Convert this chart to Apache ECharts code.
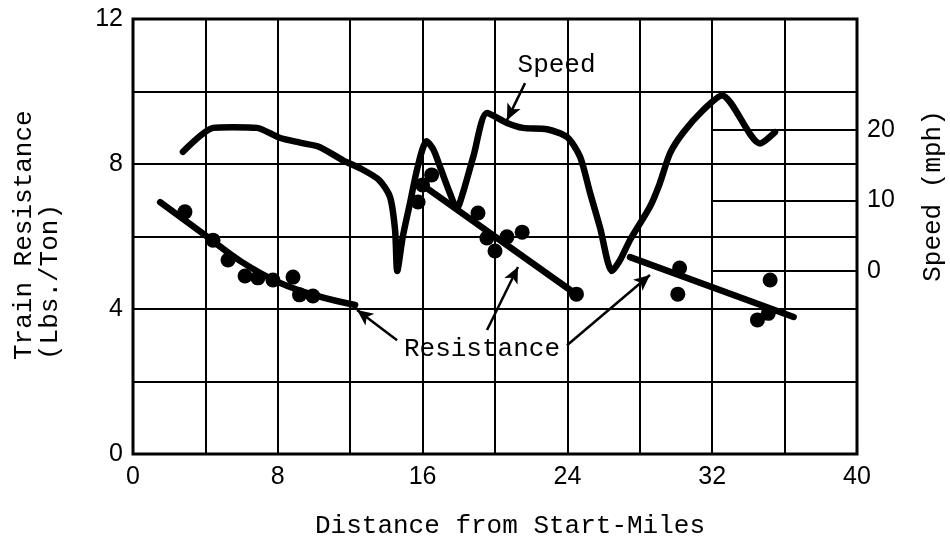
<!DOCTYPE html>
<html>
<head>
<meta charset="utf-8">
<script src="https://cdn.jsdelivr.net/npm/echarts@6/dist/echarts.min.js"></script>
<style>
html,body{margin:0;padding:0;background:#fff;}
#chart{width:950px;height:543px;}
</style>
</head>
<body>
<div id="chart"></div>
<script>
// ---- data ----
const xTickLabels = [0, 8, 16, 24, 32, 40];
const yTickLabels = [0, 4, 8, 12];
const speedTickLabels = [0, 10, 20];

// speed curve (miles, mph)
const speedMiles = [2.76, 4.42, 5.5, 6.85, 8.1, 9.23, 10.3, 11.6, 12.6, 13.6, 14.2, 14.48, 14.6, 14.9, 15.3, 15.75, 16.22, 16.6, 16.96, 17.5, 17.9, 18.23, 18.8, 19.56, 20.66, 21.55, 22.87, 23.98, 24.7, 25.25, 25.8, 26.46, 26.9, 27.46, 28.56, 29.1, 29.67, 30.39, 31.49, 32.54, 34.64, 35.47];
const speedMph   = [16.9, 20.3, 20.4, 20.3, 18.9, 18.2, 17.6, 15.7, 14.5, 12.9, 10.5, 5.8, 0, 4.8, 9.6, 15.0, 18.4, 17.2, 14.8, 11.1, 8.9, 11.1, 16.2, 22.4, 21.0, 20.3, 20.1, 19.0, 16.2, 11.1, 6.2, 0, 1.5, 4.4, 9.1, 12.4, 16.7, 19.6, 22.8, 24.9, 18.1, 19.7];

// resistance fitted lines (miles, lbs/ton)
const res1Miles = [1.5, 3.98, 6.0, 8.12, 10.17, 12.27];
const res1Values = [6.95, 6.04, 5.3, 4.72, 4.36, 4.11];
const res2Miles = [15.9, 24.5];
const res2Values = [7.45, 4.4];
const res3Miles = [27.46, 36.5];
const res3Values = [5.43, 3.78];

// measured resistance points
const dotMiles  = [2.87, 4.42, 5.25, 6.19, 6.9, 7.73, 8.84, 9.2, 9.94, 15.75, 16.0, 16.5, 19.06, 19.55, 20.0, 20.66, 21.5, 24.5, 30.2, 30.1, 35.2, 34.5, 35.1];
const dotValues = [6.68, 5.9, 5.35, 4.91, 4.86, 4.8, 4.88, 4.39, 4.36, 6.95, 7.42, 7.7, 6.65, 5.96, 5.6, 5.99, 6.12, 4.41, 5.13, 4.41, 4.8, 3.7, 3.88];

// annotations (data coordinates)
const labelTexts = ['Speed', 'Resistance'];
const labelMiles = [23.4, 19.28];
const labelValues = [10.73, 2.9];
const arrowFromMiles = [21.66, 14.59, 19.56, 23.98];
const arrowFromValues = [10.23, 3.14, 3.42, 3.0];
const arrowToMiles = [20.66, 12.38, 21.27, 28.56];
const arrowToValues = [9.21, 3.97, 5.16, 4.94];

// right (speed) axis extent, matched to left axis 0..12
const speedAxisMin = -25.95;
const speedAxisMax = 35.74;
const speedGridFrom = 32, speedGridTo = 40;

// ---- chart ----
const zip = (a, b) => a.map((v, i) => [v, b[i]]);
const mono = '"Liberation Mono", "DejaVu Sans Mono", monospace';
const sans = '"Liberation Sans", Arial, sans-serif';

const chart = echarts.init(document.getElementById('chart'), null, {renderer: 'canvas'});
chart.setOption({
  animation: false,
  backgroundColor: '#fff',
  grid: {left: 133, right: 93, top: 19, bottom: 89, show: true, borderColor: '#000', borderWidth: 3, backgroundColor: 'transparent'},
  xAxis: {
    type: 'value', min: 0, max: 40, interval: 4,
    axisLine: {show: false}, axisTick: {show: false},
    splitLine: {show: true, lineStyle: {color: '#000', width: 2}},
    axisLabel: {
      margin: 11, fontSize: 25, fontFamily: sans, color: '#000',
      formatter: v => (xTickLabels.indexOf(v) >= 0 ? String(v) : '')
    }
  },
  yAxis: [{
    type: 'value', min: 0, max: 12, interval: 2,
    axisLine: {show: false}, axisTick: {show: false},
    splitLine: {show: true, lineStyle: {color: '#000', width: 2}},
    axisLabel: {
      margin: 10, fontSize: 25, fontFamily: sans, color: '#000',
      formatter: v => (yTickLabels.indexOf(v) >= 0 ? String(v) : '')
    }
  }, {
    type: 'value', position: 'right', min: speedAxisMin, max: speedAxisMax,
    axisLine: {show: false}, axisTick: {show: false}, splitLine: {show: false},
    axisLabel: {
      margin: 10, fontSize: 25, fontFamily: sans, color: '#000',
      customValues: speedTickLabels
    }
  }],
  series: [{
    type: 'line', name: 'Speed', yAxisIndex: 1,
    data: zip(speedMiles, speedMph),
    smooth: 0.25, showSymbol: false, silent: true,
    lineStyle: {color: '#000', width: 6.5, cap: 'round', join: 'round'},
    markLine: {
      silent: true, symbol: ['none', 'none'], label: {show: false},
      lineStyle: {color: '#000', width: 2, type: 'solid'},
      data: speedTickLabels.map(t => [{coord: [speedGridFrom, t]}, {coord: [speedGridTo, t]}])
    },
    z: 3
  }, {
    type: 'line', name: 'Resistance 1', data: zip(res1Miles, res1Values),
    smooth: 0.4, showSymbol: false, silent: true,
    lineStyle: {color: '#000', width: 6.5, cap: 'round'},
    markLine: {
      silent: true, symbol: ['none', 'arrow'], symbolSize: [11, 16], label: {show: false},
      lineStyle: {color: '#000', width: 2.5, type: 'solid'},
      data: arrowFromMiles.map((m, i) => [{coord: [m, arrowFromValues[i]]}, {coord: [arrowToMiles[i], arrowToValues[i]]}])
    },
    markPoint: {
      silent: true, symbol: 'circle', symbolSize: 1, itemStyle: {color: 'transparent'},
      label: {show: true, position: 'inside', fontFamily: mono, fontSize: 26, color: '#000', formatter: p => p.name},
      data: labelTexts.map((t, i) => ({name: t, coord: [labelMiles[i], labelValues[i]]}))
    },
    z: 3
  }, {
    type: 'line', name: 'Resistance 2', data: zip(res2Miles, res2Values),
    showSymbol: false, silent: true,
    lineStyle: {color: '#000', width: 6.5, cap: 'round'}, z: 3
  }, {
    type: 'line', name: 'Resistance 3', data: zip(res3Miles, res3Values),
    showSymbol: false, silent: true,
    lineStyle: {color: '#000', width: 6.5, cap: 'round'}, z: 3
  }, {
    type: 'scatter', name: 'Measured', data: zip(dotMiles, dotValues),
    symbol: 'circle', symbolSize: 15, silent: true,
    itemStyle: {color: '#000', opacity: 1}, z: 4
  }],
  graphic: [
    {type: 'text', x: 24, y: 360, rotation: Math.PI / 2,
     style: {text: 'Train Resistance', font: '26px ' + mono, fill: '#000', align: 'left', verticalAlign: 'middle'}},
    {type: 'text', x: 50, y: 360, rotation: Math.PI / 2,
     style: {text: '(Lbs./Ton)', font: '26px ' + mono, fill: '#000', align: 'left', verticalAlign: 'middle'}},
    {type: 'text', x: 933, y: 196, rotation: Math.PI / 2,
     style: {text: 'Speed (mph)', font: '26px ' + mono, fill: '#000', align: 'center', verticalAlign: 'middle'}},
    {type: 'text', x: 510, y: 526,
     style: {text: 'Distance from Start-Miles', font: '26px ' + mono, fill: '#000', align: 'center', verticalAlign: 'middle'}}
  ]
});
</script>
</body>
</html>
